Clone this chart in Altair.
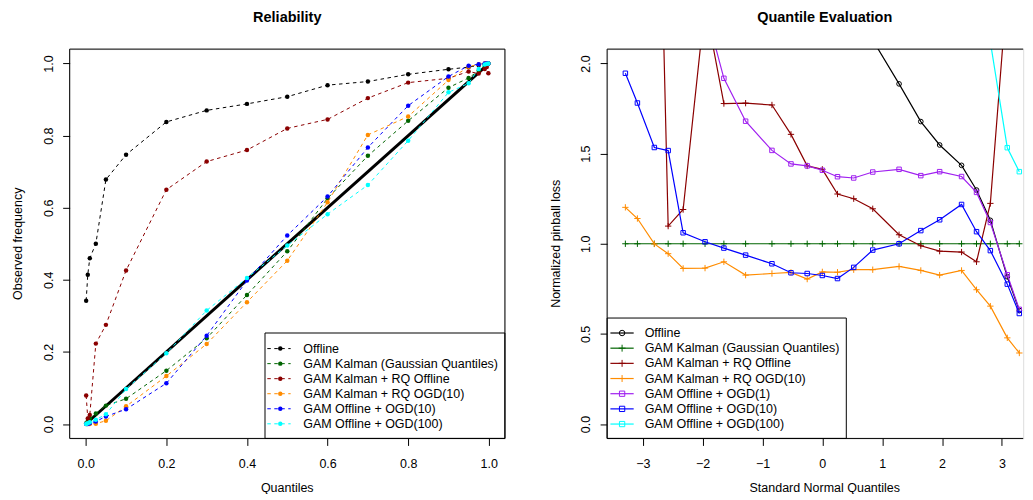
import altair as alt
import pandas as pd

# ---------------- Left panel: reliability ----------------
rel_levels = [0.001, 0.005, 0.01, 0.025, 0.05, 0.1, 0.2, 0.3, 0.4, 0.5,
              0.6, 0.7, 0.8, 0.9, 0.95, 0.975, 0.99, 0.995, 0.999]
rel_offline = [0.342, 0.414, 0.46, 0.5, 0.678, 0.747, 0.838, 0.87, 0.888, 0.908,
               0.94, 0.95, 0.970, 0.984, 0.99, 0.995, 0.998, 0.999, 1.0]
rel_gauss = [0.002, 0.008, 0.015, 0.029, 0.051, 0.07, 0.148, 0.238, 0.358, 0.479,
             0.626, 0.744, 0.841, 0.933, 0.96, 0.98, 0.993, 0.997, 1.0]
rel_rq_off = [0.079, 0.015, 0.025, 0.223, 0.275, 0.426, 0.65, 0.728, 0.76, 0.82,
              0.845, 0.904, 0.947, 0.959, 0.978, 0.972, 0.985, 0.99, 0.973]
rel_rq_ogd10 = [0.0, 0.0, 0.0, 0.001, 0.009, 0.049, 0.133, 0.222, 0.338, 0.453,
                0.615, 0.802, 0.853, 0.954, 0.991, 0.998, 1.0, 1.0, 1.0]
rel_off_ogd10 = [0.0, 0.0, 0.002, 0.007, 0.021, 0.041, 0.113, 0.245, 0.398, 0.523,
                 0.631, 0.767, 0.883, 0.964, 0.994, 0.998, 1.0, 1.0, 1.0]
rel_off_ogd100 = [0.0, 0.002, 0.005, 0.012, 0.027, 0.097, 0.196, 0.315, 0.405, 0.495,
                  0.582, 0.663, 0.786, 0.92, 0.945, 0.985, 0.997, 0.999, 1.0]
diag_x = [0.0, 1.0]
diag_y = [0.0, 1.0]

rel_names = ["Offline", "GAM Kalman (Gaussian Quantiles)", "GAM Kalman + RQ Offline",
             "GAM Kalman + RQ OGD(10)", "GAM Offline + OGD(10)", "GAM Offline + OGD(100)"]
rel_colors = ["#000000", "#006400", "#8B0000", "#FF8C00", "#0000FF", "#00FFFF"]
rel_series = [rel_offline, rel_gauss, rel_rq_off, rel_rq_ogd10, rel_off_ogd10, rel_off_ogd100]
rel_ticks = [0.0, 0.2, 0.4, 0.6, 0.8, 1.0]

# ---------------- Right panel: quantile evaluation ----------------
norm_q = [-3.291, -3.090, -2.807, -2.576, -2.326, -1.960, -1.645, -1.282, -0.842,
          -0.524, -0.253, 0.0, 0.253, 0.524, 0.842, 1.282, 1.645, 1.960, 2.326,
          2.576, 2.807, 3.090, 3.291]
loss_offline = [9.0, 8.0, 7.0, 6.2, 5.4, 4.6, 4.0, 3.5, 3.0, 2.75, 2.55, 2.42, 2.32,
                2.23, 2.13, 1.887, 1.678, 1.548, 1.435, 1.298, 1.13, 0.817, 0.63]
loss_gauss = [1.0] * 23
loss_rq_off = [5.5, 5.0, 4.3, 1.098, 1.19, 2.33, 1.778, 1.78, 1.77, 1.607, 1.432,
               1.413, 1.276, 1.25, 1.194, 1.05, 0.989, 0.959, 0.954, 0.9, 1.224,
               2.42, 3.6]
loss_rq_ogd10 = [1.202, 1.140, 0.999, 0.945, 0.863, 0.865, 0.9, 0.826, 0.835, 0.841,
                 0.804, 0.844, 0.842, 0.856, 0.856, 0.874, 0.852, 0.826, 0.852,
                 0.745, 0.654, 0.478, 0.394]
loss_off_ogd1 = [4.2, 3.9, 3.4, 3.0, 2.7, 2.31, 1.918, 1.68, 1.518, 1.443, 1.432,
                 1.408, 1.372, 1.365, 1.398, 1.413, 1.378, 1.4, 1.373, 1.285, 1.118,
                 0.828, 0.636]
loss_off_ogd10 = [1.946, 1.781, 1.534, 1.517, 1.061, 1.011, 0.976, 0.937, 0.889,
                  0.839, 0.835, 0.824, 0.807, 0.869, 0.965, 1.0, 1.073, 1.133, 1.218,
                  1.067, 0.962, 0.776, 0.613]
loss_off_ogd100 = [6.0, 5.6, 5.0, 4.6, 4.2, 3.8, 3.5, 3.2, 2.9, 2.75, 2.65, 2.6, 2.55,
                   2.5, 2.45, 2.4, 2.35, 2.3, 2.25, 2.2, 2.12, 1.533, 1.4]

loss_names = ["Offline", "GAM Kalman (Gaussian Quantiles)", "GAM Kalman + RQ Offline",
              "GAM Kalman + RQ OGD(10)", "GAM Offline + OGD(1)", "GAM Offline + OGD(10)",
              "GAM Offline + OGD(100)"]
loss_colors = ["#000000", "#006400", "#8B0000", "#FF8C00", "#A020F0", "#0000FF", "#00FFFF"]
PLUS = "M-1,0L1,0M0,-1L0,1"
loss_shapes = ["circle", PLUS, PLUS, PLUS, "square", "square", "square"]
loss_sizes = [22, 40, 40, 40, 20, 20, 20]
loss_series = [loss_offline, loss_gauss, loss_rq_off, loss_rq_ogd10, loss_off_ogd1,
               loss_off_ogd10, loss_off_ogd100]
loss_xticks = [-3, -2, -1, 0, 1, 2, 3]
loss_yticks = [0.0, 0.5, 1.0, 1.5, 2.0]

# ---------------- styling ----------------
W, H = 436, 390          # left panel plot area
WR = 416.8               # right panel plot area (runs to the window edge)
FONT = "Liberation Sans"
FS = 12.5
XT_Y = 439.7             # x-axis title position below plot top
one = pd.DataFrame({"k": [0]})


def x_axis(values, fmt):
    return alt.Axis(values=values, format=fmt, title=None, domain=False, grid=False,
                    tickSize=7, tickColor="black", tickWidth=1, labelFont=FONT,
                    labelFontSize=FS, labelColor="black", labelPadding=12,
                    labelBaseline="top", labelFlush=False, labelOverlap=False)


def y_axis(values, fmt):
    return alt.Axis(values=values, format=fmt, title=None, domain=False, grid=False,
                    tickSize=7, tickColor="black", tickWidth=1, labelFont=FONT,
                    labelFontSize=FS, labelColor="black", labelAngle=270,
                    labelAlign="center", labelBaseline="bottom", labelPadding=7.4,
                    labelFlush=False, labelOverlap=False)


def text_layer(txt, x, y, size=FS, bold=False, angle=0):
    kw = dict(align="center", baseline="middle", font=FONT, fontSize=size,
              color="black", fontWeight="bold" if bold else "normal")
    if angle:
        kw["angle"] = angle
    return alt.Chart(one).mark_text(**kw).encode(
        x=alt.value(x), y=alt.value(y), text=alt.value(txt))


def hrule(x0, x1, y):
    return alt.Chart(one).mark_rule(color="black", strokeWidth=1).encode(
        x=alt.value(x0), x2=alt.value(x1), y=alt.value(y))


def vrule(x, y0, y1):
    return alt.Chart(one).mark_rule(color="black", strokeWidth=1).encode(
        x=alt.value(x), y=alt.value(y0), y2=alt.value(y1))


# ---------------- left chart ----------------
LX = alt.X("x:Q", scale=alt.Scale(domain=[-0.04, 1.04], nice=False, zero=False),
           axis=x_axis(rel_ticks, ".1f"))
LY = alt.Y("y:Q", scale=alt.Scale(domain=[-0.04, 1.04], nice=False, zero=False),
           axis=y_axis(rel_ticks, ".1f"))

left_layers = [
    alt.Chart(pd.DataFrame({"x": diag_x, "y": diag_y})).mark_line(
        color="black", strokeWidth=3, clip=True).encode(x=LX, y=LY)
]
for vals, col in zip(rel_series, rel_colors):
    df = pd.DataFrame({"x": rel_levels, "y": vals})
    left_layers.append(alt.Chart(df).mark_line(
        color=col, strokeWidth=1, strokeDash=[3.5, 3.5], clip=True).encode(x=LX, y=LY))
    left_layers.append(alt.Chart(df).mark_circle(
        color=col, size=20, opacity=1, clip=True).encode(x=LX, y=LY))

left_layers.append(alt.Chart(one).mark_rect(fill="white", stroke="black", strokeWidth=1).encode(
    x=alt.value(195.7), x2=alt.value(W), y=alt.value(284.4), y2=alt.value(H)))
for i, (name, col) in enumerate(zip(rel_names, rel_colors)):
    yy = 300 + i * 15.07
    left_layers.append(alt.Chart(one).mark_rule(color=col, strokeWidth=1, strokeDash=[3.5, 3.5]).encode(
        x=alt.value(198), x2=alt.value(221.4), y=alt.value(yy)))
    left_layers.append(alt.Chart(one).mark_circle(color=col, size=20, opacity=1).encode(
        x=alt.value(211), y=alt.value(yy)))
    left_layers.append(alt.Chart(one).mark_text(
        align="left", baseline="middle", font=FONT, fontSize=FS, color="black").encode(
        x=alt.value(234), y=alt.value(yy), text=alt.value(name)))

left_layers += [hrule(0, W, 0), hrule(0, W, H), vrule(0, 0, H), vrule(W, 0, H)]
left_layers.append(text_layer("Reliability", W / 2, -31.3, size=14.5, bold=True))
left_layers.append(text_layer("Quantiles", W / 2, XT_Y))
left_layers.append(text_layer("Observed frequency", -51.3, H / 2, angle=270))

left = alt.layer(*left_layers).properties(width=W, height=H)

# ---------------- right chart ----------------
RX = alt.X("x:Q", scale=alt.Scale(domain=[-3.596, 3.356], nice=False, zero=False),
           axis=x_axis(loss_xticks, "d"))
RY = alt.Y("y:Q", scale=alt.Scale(domain=[-0.08, 2.08], nice=False, zero=False),
           axis=y_axis(loss_yticks, ".1f"))

right_layers = []
for vals, col, shp, sz in zip(loss_series, loss_colors, loss_shapes, loss_sizes):
    df = pd.DataFrame({"x": norm_q, "y": vals})
    right_layers.append(alt.Chart(df).mark_line(
        color=col, strokeWidth=1.2, clip=True).encode(x=RX, y=RY))
    right_layers.append(alt.Chart(df).mark_point(
        color=col, shape=shp, size=sz, filled=False, strokeWidth=1, opacity=1,
        clip=True).encode(x=RX, y=RY))

right_layers.append(alt.Chart(one).mark_rect(fill="white", stroke="black", strokeWidth=1).encode(
    x=alt.value(0), x2=alt.value(239.6), y=alt.value(269.4), y2=alt.value(H)))
for i, (name, col, shp, sz) in enumerate(zip(loss_names, loss_colors, loss_shapes, loss_sizes)):
    yy = 284.4 + i * 15.2
    right_layers.append(alt.Chart(one).mark_rule(color=col, strokeWidth=1.2).encode(
        x=alt.value(3.3), x2=alt.value(26.6), y=alt.value(yy)))
    right_layers.append(alt.Chart(one).mark_point(
        color=col, shape=shp, size=sz + 8, filled=False, strokeWidth=1, opacity=1).encode(
        x=alt.value(15), y=alt.value(yy)))
    right_layers.append(alt.Chart(one).mark_text(
        align="left", baseline="middle", font=FONT, fontSize=FS, color="black").encode(
        x=alt.value(37.6), y=alt.value(yy), text=alt.value(name)))

right_layers += [hrule(0, WR, 0), hrule(0, WR, H), vrule(0, 0, H)]
right_layers.append(text_layer("Quantile Evaluation", 218, -31.3, size=14.5, bold=True))
right_layers.append(text_layer("Standard Normal Quantiles", 218, XT_Y))
right_layers.append(text_layer("Normalized pinball loss", -51, H / 2, angle=270))

right = alt.layer(*right_layers).properties(width=WR, height=H)

chart = alt.hconcat(left, right, spacing=102.4, bounds="flush").properties(
    padding={"left": 3.75, "top": 0.75, "right": 0, "bottom": -2}
).configure_view(stroke="transparent").configure(background="white")

chart.save("out.html", embed_options={"renderer": "svg", "actions": False})
